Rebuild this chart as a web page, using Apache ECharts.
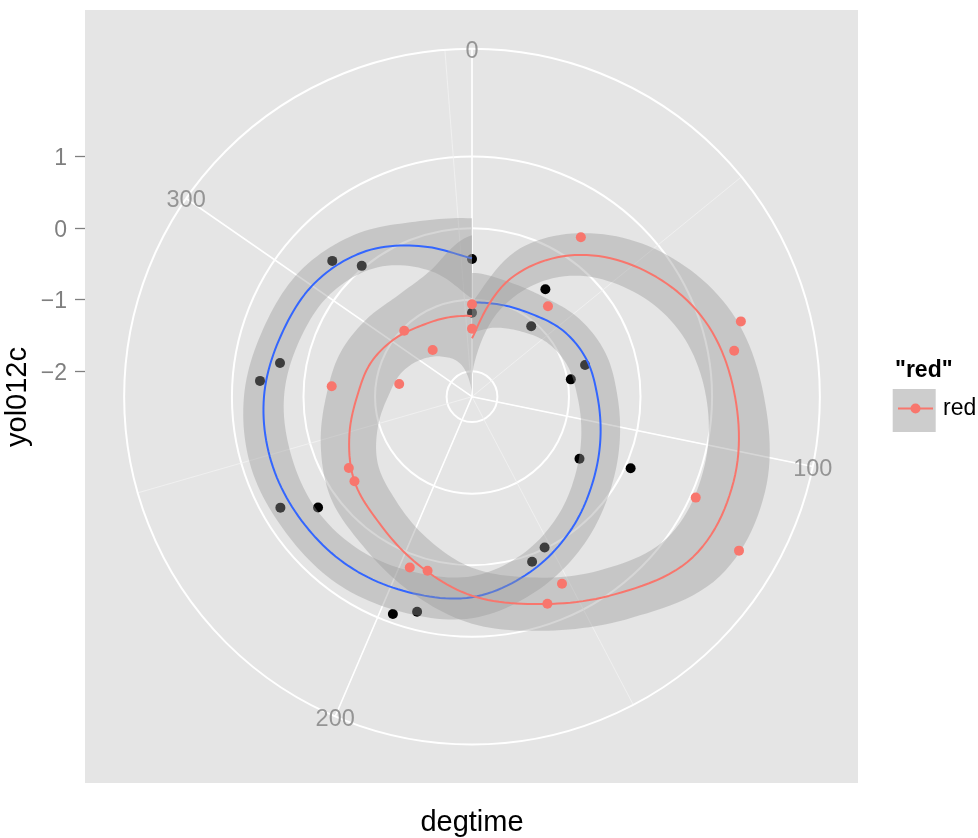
<!DOCTYPE html>
<html>
<head>
<meta charset="utf-8">
<script src="https://cdn.jsdelivr.net/npm/echarts@6/dist/echarts.min.js"></script>
<style>html,body{margin:0;padding:0;background:#fff}#c{width:978px;height:838px}</style>
</head>
<body>
<div id="c"></div>
<script>
// ---------------- data ----------------
const blackTime = [0, 33.8, 39.4, 73.2, 78.8, 112.5, 118.1, 151.9, 157.5, 191.3, 196.9, 230.6, 236.2, 270.0, 275.6, 309.3, 314.9, 354.4];
const blackVal  = [-1.181, -0.537, -1.068, -0.714, -0.953, 0.077, -0.621, -0.015, 0.099, 0.746, 0.876, 0.296, 0.739, 0.616, 0.369, 0.368, 0.036, -0.430];
const redTime   = [0, 33.8, 39.4, 73.2, 78.8, 112.5, 118.1, 151.9, 157.5, 191.3, 196.9, 230.6, 236.2, 270.0, 275.6, 309.3, 314.9, 354.4];
const redVal    = [-1.405, 0.342, -0.704, 1.547, 1.365, 1.075, 1.952, 0.545, 0.724, 0.155, 0.186, -0.331, -0.366, -0.389, -1.322, -1.034, -1.502, -1.064];

const smoothTime = [0, 17.72, 35.44, 53.16, 70.88, 88.6, 106.32, 124.04, 141.76, 159.48, 177.2, 194.92, 212.64, 230.36, 248.08, 265.8, 283.52, 301.24, 318.96, 336.68, 354.4];
const blueFit = [-1.041, -1.006, -0.929, -0.783, -0.672, -0.601, -0.468, -0.279, -0.028, 0.231, 0.447, 0.517, 0.573, 0.590, 0.594, 0.552, 0.447, 0.356, 0.161, -0.147, -0.421];
const blueLo  = [-1.460, -1.341, -1.222, -1.063, -0.952, -0.881, -0.748, -0.559, -0.308, -0.049, 0.154, 0.224, 0.300, 0.330, 0.301, 0.272, 0.181, 0.090, -0.119, -0.510, -0.980];
const blueHi  = [-0.622, -0.671, -0.636, -0.503, -0.392, -0.321, -0.188, 0.001, 0.252, 0.511, 0.740, 0.810, 0.866, 0.866, 0.887, 0.832, 0.713, 0.622, 0.441, 0.216, 0.138];
const redFit  = [-1.539, -0.622, 0.091, 0.636, 1.069, 1.321, 1.488, 1.460, 1.055, 0.692, 0.426, 0.105, -0.161, -0.328, -0.552, -0.748, -0.860, -0.999, -1.132, -1.195, -1.227];
const redLo   = [-2.042, -1.069, -0.286, 0.259, 0.678, 0.916, 1.040, 1.010, 0.650, 0.301, 0.035, -0.286, -0.552, -0.733, -0.971, -1.181, -1.307, -1.474, -1.663, -1.894, -2.355];
const redHi   = [-1.036, -0.175, 0.468, 1.013, 1.460, 1.726, 1.950, 1.920, 1.460, 1.083, 0.817, 0.496, 0.230, 0.077, -0.133, -0.315, -0.413, -0.524, -0.601, -0.496, -0.099];

const thetaBreaks = [0, 100, 200, 300];
const rBreaks = [-2, -1, 0, 1];
const thetaRange = [0, 354.4];
const rRange = [-2.355, 1.966];

// ---------------- layout ----------------
const FONT = "'Liberation Sans', Arial, Helvetica, sans-serif";
const CX = 472, CY = 396.7;
const PANEL = {x: 85, y: 10, w: 773, h: 773};
const R_OUT = 0.45 * PANEL.w;          // outer circle (ggplot 0.45)
const R_DATA = 0.4 * PANEL.w;          // data radius (ggplot 0.4)
const rOuterVal = rRange[0] + (rRange[1] - rRange[0]) * R_OUT / R_DATA;
const rTop = rBreaks[rBreaks.length - 1];
const R_GRID = R_OUT * (rTop - rRange[0]) / (rOuterVal - rRange[0]);

const chart = echarts.init(document.getElementById('c'));

// Catmull-Rom through the read samples, evaluated in data space (like ggplot's polar munching)
function cr(p0, p1, p2, p3, s) {
  return 0.5 * (2 * p1 + (-p0 + p2) * s + (2 * p0 - 5 * p1 + 4 * p2 - p3) * s * s + (-p0 + 3 * p1 - 3 * p2 + p3) * s * s * s);
}
function curvePts(api, vals, reverse) {
  const n = smoothTime.length, out = [], steps = 12;
  for (let i = 0; i < n - 1; i++) {
    const a = Math.max(i - 1, 0), b = i, c = i + 1, d = Math.min(i + 2, n - 1);
    for (let s = 0; s < steps; s++) {
      const f = s / steps;
      const t = smoothTime[b] + (smoothTime[c] - smoothTime[b]) * f;
      const v = cr(vals[a], vals[b], vals[c], vals[d], f);
      out.push(api.coord([v, t]));
    }
  }
  out.push(api.coord([vals[n - 1], smoothTime[n - 1]]));
  return reverse ? out.reverse() : out;
}
function ribbon(lo, hi) {
  return function (params, api) {
    const pts = curvePts(api, hi, false).concat(curvePts(api, lo, true));
    return {type: 'polygon', shape: {points: pts}, style: {fill: 'rgba(153,153,153,0.4)'}};
  };
}
function fitLine(vals, color) {
  return function (params, api) {
    return {type: 'polyline', shape: {points: curvePts(api, vals, false)},
      style: {stroke: color, lineWidth: 2, fill: null, lineJoin: 'round'}};
  };
}

const hiddenAngle = {axisLine: {show: false}, axisTick: {show: false}, axisLabel: {show: false}};
const hiddenRadius = {min: rRange[0], max: rOuterVal, axisLine: {show: false}, axisTick: {show: false}, axisLabel: {show: false}, splitLine: {show: false}};

const option = {
  animation: false,
  backgroundColor: '#ffffff',
  polar: [
    {center: [CX, CY], radius: R_OUT},
    {center: [CX, CY], radius: R_OUT},
    {center: [CX, CY], radius: R_GRID}
  ],
  angleAxis: [
    Object.assign({polarIndex: 0, type: 'value', min: thetaRange[0], max: thetaRange[1], interval: 50, startAngle: 90, clockwise: true,
      splitLine: {show: true, lineStyle: {color: '#f2f2f2', width: 0.8}}}, hiddenAngle),
    {polarIndex: 1, type: 'value', min: thetaRange[0], max: thetaRange[1], interval: 100, startAngle: 90, clockwise: true,
      axisLine: {show: true, lineStyle: {color: '#ffffff', width: 2}}, axisTick: {show: false}, axisLabel: {show: false},
      splitLine: {show: true, lineStyle: {color: '#ffffff', width: 1.6}}},
    Object.assign({polarIndex: 2, type: 'value', min: thetaRange[0], max: thetaRange[1], startAngle: 90, clockwise: true,
      splitLine: {show: false}}, hiddenAngle)
  ],
  radiusAxis: [
    Object.assign({polarIndex: 0, type: 'value'}, hiddenRadius),
    Object.assign({polarIndex: 1, type: 'value'}, hiddenRadius),
    {polarIndex: 2, type: 'value', min: rRange[0], max: rTop, minInterval: 1, maxInterval: 1,
      axisLine: {show: false}, axisTick: {show: false}, axisLabel: {show: false},
      splitLine: {show: true, lineStyle: {color: '#ffffff', width: 2}}}
  ],
  grid: [{left: PANEL.x, width: PANEL.w, top: CY - R_DATA, height: R_DATA, containLabel: false}],
  xAxis: [{type: 'value', gridIndex: 0, show: false, min: 0, max: 1}],
  yAxis: [{type: 'value', gridIndex: 0, min: rRange[0], max: rRange[1], position: 'left',
    axisLine: {show: false}, splitLine: {show: false},
    axisTick: {show: true, customValues: rBreaks, length: 10, lineStyle: {color: '#7f7f7f', width: 1.3}},
    axisLabel: {show: true, customValues: rBreaks, margin: 18,
      formatter: v => '{a|' + (v < 0 ? '\u2212' + Math.abs(v) : String(v)) + '}',
      rich: {a: {color: '#7f7f7f', fontSize: 23, fontFamily: FONT, padding: [4, 0, 0, 0]}}}}],
  legend: {
    data: [{name: 'red'}], left: 892, top: 392, orient: 'vertical', selectedMode: false,
    itemWidth: 35, itemHeight: 12.5,
    textStyle: {fontSize: 23, color: '#000', fontFamily: FONT, padding: [0, 0, 0, 5]}
  },
  graphic: [
    {type: 'rect', z: -10, shape: {x: PANEL.x, y: PANEL.y, width: PANEL.w, height: PANEL.h}, style: {fill: '#e5e5e5'}},
    {type: 'rect', z: 0, shape: {x: 892.7, y: 389, width: 43, height: 43}, style: {fill: '#cdcdcd'}},
    {type: 'text', x: 895, y: 371, style: {text: '"red"', fontSize: 23, fontWeight: 'bold', fontFamily: FONT, fill: '#000', align: 'left', verticalAlign: 'middle'}},
    {type: 'text', x: 18, y: 397, rotation: Math.PI / 2, style: {text: 'yol012c', fontSize: 29, fontFamily: FONT, fill: '#000', align: 'center', verticalAlign: 'middle'}},
    {type: 'text', x: 472, y: 823, style: {text: 'degtime', fontSize: 29, fontFamily: FONT, fill: '#000', align: 'center', verticalAlign: 'middle'}}
  ],
  series: [
    {type: 'scatter', name: 'black', coordinateSystem: 'polar', polarIndex: 1, z: 2, symbolSize: 10,
      itemStyle: {color: '#000000', opacity: 1}, data: blackTime.map((t, i) => [blackVal[i], t])},
    {type: 'custom', name: 'blueBand', coordinateSystem: 'polar', polarIndex: 1, z: 3, silent: true,
      renderItem: ribbon(blueLo, blueHi), data: [[blueFit[0], smoothTime[0]]]},
    {type: 'custom', name: 'blueFit', coordinateSystem: 'polar', polarIndex: 1, z: 4, silent: true,
      renderItem: fitLine(blueFit, '#3366FF'), data: [[blueFit[0], smoothTime[0]]]},
    {type: 'custom', name: 'redBand', coordinateSystem: 'polar', polarIndex: 1, z: 5, silent: true,
      renderItem: ribbon(redLo, redHi), data: [[redFit[0], smoothTime[0]]]},
    {type: 'custom', name: 'redFit', coordinateSystem: 'polar', polarIndex: 1, z: 6, silent: true,
      renderItem: fitLine(redFit, '#F8766D'), data: [[redFit[0], smoothTime[0]]]},
    {type: 'scatter', name: 'redpts', coordinateSystem: 'polar', polarIndex: 1, z: 7, symbolSize: 10,
      itemStyle: {color: '#F8766D', opacity: 1}, data: redTime.map((t, i) => [redVal[i], t])},
    // legend entry only (key: line + point)
    {type: 'line', name: 'red', coordinateSystem: 'polar', polarIndex: 1, z: 7, symbol: 'circle', showSymbol: false,
      lineStyle: {color: '#F8766D', width: 2}, itemStyle: {color: '#F8766D'}, data: []},
    {type: 'scatter', name: 'thetaLabels', coordinateSystem: 'polar', polarIndex: 1, z: 8, symbolSize: 0, silent: true,
      data: thetaBreaks.map(b => [rOuterVal, b]),
      label: {show: true, position: 'inside', offset: [0, 2.5], formatter: p => String(p.value[1]), color: '#7f7f7f', fontSize: 23.5, fontFamily: FONT}}
  ]
};
chart.setOption(option);
</script>
</body>
</html>
